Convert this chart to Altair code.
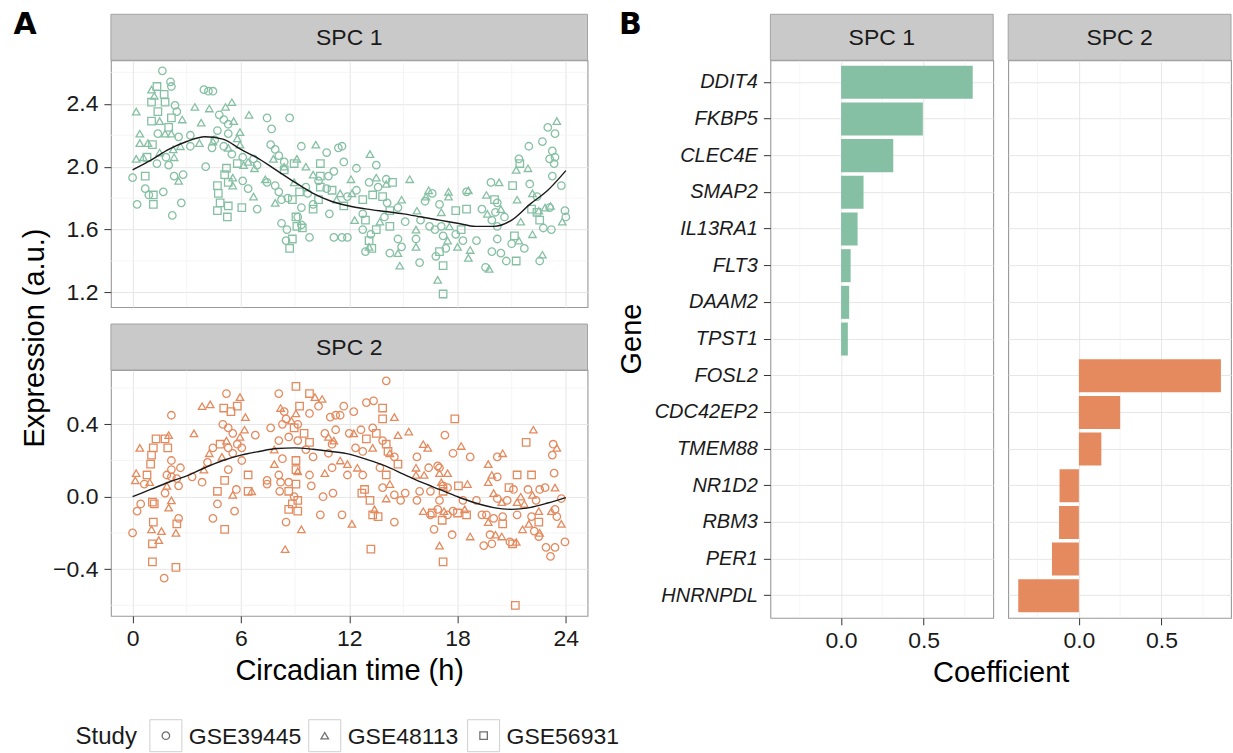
import altair as alt
import pandas as pd

# ---------------- data ----------------
studies = ["GSE39445", "GSE48113", "GSE56931"]

spc1_gse39445 = [
    (0, 1.93), (0.25, 1.76), (0.7, 1.86), (0.9, 1.82), (1.35, 2.02), (1.65, 2.61), (2.1, 2.54), (2.15, 2.51),
    (2.35, 2.39), (2.45, 2.35), (1.4, 2.21), (1.85, 2.06), (2.0, 2.01), (2.3, 1.94), (2.8, 1.95), (1.7, 1.84),
    (2.2, 1.69), (2.7, 1.77), (2.55, 2.19), (3.2, 2.20), (3.95, 2.49), (4.2, 2.48), (4.45, 2.48), (3.2, 2.13),
    (4.05, 2.0), (4.4, 2.12), (4.8, 2.33), (5.05, 2.30), (5.3, 2.27), (5.3, 2.21), (4.7, 2.23), (4.55, 2.17),
    (5.05, 2.13), (5.5, 2.08), (6.1, 2.06), (6.1, 1.91), (6.9, 1.73), (6.4, 1.86), (6.7, 2.05), (6.9, 2.01),
    (7.45, 2.31), (8.7, 2.31), (7.7, 2.24), (7.65, 2.14), (7.9, 2.11), (8.1, 2.07), (8.4, 2.03), (7.45, 1.90),
    (7.9, 1.88), (8.1, 1.84), (8.25, 1.79), (8.6, 1.80), (8.25, 1.64), (8.55, 1.60), (8.5, 1.53), (9.15, 1.68),
    (9.35, 1.63), (9.8, 1.55), (9.35, 2.13), (9.6, 1.87), (9.7, 1.83), (9.35, 1.74), (10.75, 2.09), (11.4, 2.12),
    (11.6, 2.13), (11.7, 2.03), (11.15, 1.97), (10.3, 1.91), (10.85, 1.94), (10.75, 1.86), (11.9, 1.81),
    (10.0, 1.76), (10.9, 1.70), (11.15, 1.55), (11.6, 1.55), (11.9, 1.55), (12.4, 1.99), (12.4, 1.85),
    (12.75, 1.70), (12.75, 1.60), (13.5, 2.01), (13.1, 1.90), (13.6, 1.87), (14.05, 1.92), (14.1, 1.77),
    (14.7, 1.74), (13.2, 1.57), (12.9, 1.46), (13.95, 1.68), (14.25, 1.45), (14.9, 1.49), (14.7, 1.54),
    (15.1, 1.65), (15.95, 1.66), (15.7, 1.54), (15.9, 1.39), (16.2, 1.78), (16.6, 1.83), (17.0, 1.76),
    (18.5, 1.84), (16.45, 1.62), (16.75, 1.60), (17.1, 1.62), (17.2, 1.56), (16.8, 1.43), (17.35, 1.48),
    (17.9, 1.57), (18.3, 1.53), (19.05, 1.53), (19.35, 1.73), (19.85, 1.90), (19.9, 1.66), (20.2, 1.77),
    (20.1, 1.71), (20.6, 1.68), (20.2, 1.62), (20.2, 1.54), (19.9, 1.46), (19.55, 1.36), (20.4, 1.45),
    (20.7, 1.40), (21.4, 2.05), (22.0, 1.89), (21.0, 1.51), (21.7, 1.48), (21.95, 2.13), (22.4, 1.81),
    (22.55, 1.40), (22.75, 1.61), (23.2, 1.60), (23.1, 1.74), (22.7, 2.16), (23.0, 2.25), (23.4, 2.21),
    (23.1, 2.05), (23.4, 2.06), (23.35, 2.02), (23.25, 2.10), (23.95, 1.72), (24.0, 1.68), (23.75, 1.88),
    (23.25, 1.94),
]
spc1_gse48113 = [
    (0.2, 2.35), (0.4, 2.21), (0.4, 2.15), (0.2, 2.05), (0.6, 2.06), (0.85, 2.15), (1.5, 2.09), (1.05, 2.49),
    (1.2, 2.45), (1.5, 2.29), (2.15, 2.21), (1.8, 2.21), (2.75, 2.30), (2.25, 2.11), (2.3, 2.06), (2.55, 1.91),
    (2.65, 2.13), (3.45, 2.38), (3.8, 2.28), (4.25, 2.37), (3.7, 2.15), (4.45, 2.16), (5.15, 2.38), (5.5, 2.41),
    (5.6, 2.29), (5.95, 2.22), (5.8, 2.18), (5.3, 2.12), (5.95, 2.14), (6.15, 2.01), (5.55, 1.93), (5.55, 1.88),
    (6.7, 1.81), (6.4, 2.03), (6.45, 2.33), (6.75, 1.99), (7.8, 2.05), (8.4, 2.0), (7.35, 1.92), (7.9, 1.77),
    (9.1, 2.05), (8.95, 1.90), (9.6, 2.0), (10.15, 2.14), (10.0, 1.95), (11.5, 1.83), (11.3, 1.79),
    (12.1, 1.92), (12.15, 1.83), (12.3, 1.66), (13.15, 2.08), (13.5, 1.93), (14.05, 1.89), (14.9, 1.79),
    (15.35, 1.92), (13.1, 1.49), (13.7, 1.65), (14.7, 1.45), (14.8, 1.37), (15.75, 1.72), (15.7, 1.60),
    (15.7, 1.49), (16.4, 1.85), (16.25, 1.81), (17.1, 1.71), (17.5, 1.84), (17.5, 1.81), (18.6, 1.85),
    (17.55, 1.62), (17.45, 1.53), (16.9, 1.28), (18.0, 1.49), (18.6, 1.42), (18.7, 1.47), (19.6, 1.82),
    (19.65, 1.70), (20.3, 1.90), (20.4, 1.73), (19.75, 1.35), (21.25, 1.98), (21.9, 1.99), (21.3, 1.79),
    (21.4, 1.53), (21.5, 1.65), (22.15, 1.83), (22.5, 1.72), (22.15, 1.57), (22.7, 1.44), (22.85, 1.74),
    (23.5, 2.29), (23.15, 1.75), (23.8, 1.65),
]
spc1_gse56931 = [
    (0.7, 1.94), (1.15, 1.82), (1.15, 1.76), (0.8, 2.06), (1.1, 2.14), (1.35, 2.51), (1.05, 2.41), (1.4, 2.35),
    (1.05, 2.29), (1.75, 2.46), (1.8, 2.41), (2.15, 2.31), (2.0, 2.25), (5.8, 2.02), (5.2, 1.99), (5.1, 1.95),
    (5.3, 1.90), (4.7, 1.88), (4.75, 1.83), (4.85, 1.77), (5.3, 1.75), (4.7, 1.72), (5.25, 1.68), (6.05, 1.74),
    (8.4, 1.98), (8.85, 1.79), (9.05, 1.68), (8.85, 1.54), (8.7, 1.48), (9.1, 1.62), (9.4, 1.61), (8.95, 2.02),
    (10.0, 1.73), (9.25, 1.84), (10.4, 2.02), (10.4, 1.94), (10.4, 1.87), (11.05, 1.85), (10.3, 1.79),
    (11.7, 1.75), (12.75, 1.79), (12.9, 1.66), (13.3, 1.82), (13.85, 1.81), (14.4, 1.90), (14.25, 1.72),
    (13.1, 1.53), (13.25, 1.48), (13.5, 1.60), (14.25, 1.62), (17.9, 1.72), (18.5, 1.73), (17.0, 1.46),
    (17.2, 1.37), (17.2, 1.19), (18.2, 1.60), (20.05, 1.79), (21.25, 1.40), (21.05, 1.88), (21.45, 2.02),
    (21.15, 1.56), (22.1, 1.73), (22.55, 1.66), (22.4, 1.71),
]

spc2_gse39445 = [
    (0, -0.20), (0.25, -0.08), (0.45, -0.04), (0.65, 0.07), (1.75, -0.45), (2.15, 0.45), (2.15, 0.20),
    (2.15, 0.15), (1.9, 0.12), (2.15, 0.11), (1.8, 0.02), (2.45, 0.10), (2.55, 0.06), (2.55, -0.12),
    (2.65, 0.16), (3.3, 0.11), (3.85, 0.08), (4.15, 0.19), (4.45, 0.27), (4.7, -0.04), (4.45, -0.12),
    (5.2, 0.57), (5.0, 0.40), (5.3, 0.38), (5.55, 0.35), (5.3, 0.27), (5.55, 0.24), (5.3, 0.15), (5.75, 0.04),
    (5.65, -0.08), (6.05, 0.27), (6.05, 0.20), (5.8, 0.29), (6.8, 0.34), (7.45, 0.09), (7.45, 0.07),
    (7.65, 0.38), (8.1, 0.57), (8.4, 0.47), (8.5, 0.43), (10.3, 0.50), (9.8, 0.46), (8.3, 0.40), (9.15, 0.40),
    (8.1, 0.31), (8.65, 0.33), (9.15, 0.31), (8.3, 0.21), (8.1, 0.12), (8.65, 0.08), (8.2, 0.08), (8.15, 0.03),
    (8.95, 0.0), (8.5, -0.14), (9.8, 0.12), (9.6, 0.26), (10.0, 0.22), (9.9, 0.06), (10.4, -0.10),
    (10.65, 0.35), (10.95, 0.44), (11.05, 0.29), (11.25, 0.37), (11.25, 0.45), (11.5, 0.45), (11.7, 0.50),
    (12.25, 0.47), (10.85, 0.24), (11.05, 0.16), (11.9, 0.12), (11.1, 0.02), (10.55, 0.0), (11.6, -0.10),
    (12.0, 0.35), (12.65, 0.37), (12.35, 0.27), (12.75, 0.25), (12.75, 0.12), (13.35, 0.53), (12.95, 0.52),
    (13.3, 0.38), (14.05, 0.64), (13.85, 0.31), (14.5, 0.22), (13.7, 0.16), (13.85, 0.05), (14.5, 0.01),
    (14.85, -0.02), (15.1, 0.02), (14.5, -0.14), (15.75, 0.22), (15.75, -0.02), (15.9, 0.03), (16.4, 0.16),
    (16.5, 0.03), (16.5, -0.10), (16.7, -0.18), (16.9, 0.17), (17.0, 0.16), (17.2, 0.06), (17.45, 0.05),
    (17.0, -0.02), (16.9, -0.07), (17.45, -0.10), (17.3, 0.34), (17.75, 0.24), (18.7, 0.22), (18.3, -0.02),
    (17.75, -0.08), (17.7, -0.21), (19.05, -0.02), (19.35, -0.10), (19.6, -0.10), (20.2, 0.11), (20.2, 0.22),
    (19.45, -0.27), (19.9, -0.26), (19.8, -0.21), (20.0, -0.12), (20.2, -0.01), (20.5, -0.11), (20.75, -0.02),
    (21.1, 0.04), (21.3, -0.10), (20.9, -0.25), (22.1, -0.11), (21.9, 0.04), (22.35, -0.02), (22.25, -0.19),
    (22.5, -0.22), (22.9, -0.28), (23.15, -0.33), (22.55, 0.04), (22.85, 0.05), (23.3, 0.29), (23.25, 0.23),
    (23.35, 0.13), (23.4, -0.07), (23.5, -0.11), (23.4, -0.28), (23.95, -0.25), (23.75, -0.01),
]
spc2_gse48113 = [
    (0.4, 0.27), (0.2, 0.13), (0.15, 0.09), (0.95, 0.08), (1.05, -0.18), (1.45, -0.24), (1.6, -0.19),
    (2.0, 0.34), (1.9, 0.06), (2.15, -0.02), (2.0, -0.06), (2.4, -0.20), (3.4, 0.35), (3.85, 0.50), (4.3, 0.51),
    (3.95, 0.15), (4.25, 0.24), (5.95, 0.55), (5.2, 0.31), (4.95, 0.22), (5.55, 0.01), (5.95, 0.33),
    (6.25, 0.44), (6.2, 0.37), (6.6, 0.03), (8.2, 0.49), (10.1, 0.55), (10.5, 0.54), (9.05, 0.46), (8.8, 0.42),
    (7.85, 0.26), (7.85, 0.18), (9.15, 0.14), (9.35, -0.18), (8.45, -0.29), (10.85, 0.33), (11.15, 0.31),
    (11.5, 0.20), (10.65, 0.13), (11.9, 0.18), (12.15, -0.15), (12.25, 0.35), (12.45, 0.16), (13.3, 0.27),
    (14.5, 0.44), (14.25, 0.24), (14.7, 0.34), (14.25, 0.07), (14.05, -0.01), (13.4, -0.07), (15.3, 0.36),
    (15.7, 0.16), (15.7, 0.12), (16.1, -0.08), (16.1, 0.29), (16.35, 0.27), (16.15, 0.12), (17.0, -0.27),
    (17.0, 0.13), (17.45, 0.13), (17.1, 0.08), (17.25, -0.08), (18.2, 0.28), (18.55, 0.07), (18.4, -0.07),
    (18.7, -0.22), (19.7, 0.08), (19.9, 0.12), (19.7, 0.18), (20.5, 0.24), (19.7, -0.14), (20.1, -0.21),
    (20.45, -0.22), (20.0, 0.02), (20.45, -0.03), (21.3, -0.03), (21.5, 0.0), (21.7, -0.04), (21.25, -0.25),
    (21.6, -0.18), (21.95, -0.15), (22.2, 0.37), (22.15, 0.01), (22.5, -0.08), (22.55, -0.20), (23.4, 0.05),
    (23.5, 0.27), (23.2, -0.08), (23.75, -0.15),
]
spc2_gse56931 = [
    (0.8, 0.12), (1.0, 0.18), (1.05, 0.23), (1.15, 0.27), (1.3, 0.32), (1.1, -0.03), (1.2, -0.04),
    (1.15, -0.14), (1.1, -0.26), (1.1, -0.36), (2.4, -0.39), (1.8, 0.32), (1.95, 0.27), (2.45, -0.15),
    (4.7, 0.03), (5.1, -0.18), (5.05, 0.49), (5.45, 0.47), (5.8, 0.50), (4.85, 0.29), (5.1, 0.09), (6.4, 0.03),
    (6.4, 0.12), (9.05, 0.61), (9.25, 0.50), (9.8, 0.57), (8.95, 0.38), (9.5, 0.35), (9.05, 0.20), (9.05, 0.15),
    (9.05, 0.07), (8.65, 0.03), (9.15, -0.02), (8.85, -0.04), (8.65, -0.07), (9.15, -0.08), (9.8, 0.30),
    (12.85, 0.04), (12.7, 0.02), (13.15, -0.02), (13.3, -0.10), (13.2, -0.29), (12.95, 0.32), (13.5, 0.35),
    (13.85, 0.49), (13.85, 0.43), (14.05, 0.29), (14.15, 0.25), (14.7, 0.18), (14.05, 0.12), (13.6, -0.11),
    (16.6, -0.09), (17.2, -0.36), (17.2, 0.03), (17.15, -0.13), (17.85, 0.43), (18.05, 0.06), (18.0, -0.09),
    (18.5, -0.10), (20.5, -0.15), (20.85, 0.05), (21.3, 0.12), (22.1, 0.12), (21.05, -0.26), (21.2, -0.60),
    (21.8, 0.30), (22.5, -0.14),
]

curve_hours = list(range(25))
spc1_curve = [1.98, 2.04, 2.11, 2.16, 2.19, 2.175, 2.11, 2.05, 1.975, 1.90, 1.83, 1.78, 1.75, 1.73, 1.715,
              1.70, 1.68, 1.66, 1.64, 1.62, 1.62, 1.66, 1.76, 1.85, 1.975]
spc2_curve = [0.0, 0.04, 0.08, 0.115, 0.16, 0.20, 0.23, 0.25, 0.266, 0.27, 0.262, 0.25, 0.235, 0.205, 0.17,
              0.125, 0.08, 0.04, 0.0, -0.035, -0.06, -0.07, -0.06, -0.035, -0.005]

genes = ["DDIT4", "FKBP5", "CLEC4E", "SMAP2", "IL13RA1", "FLT3", "DAAM2", "TPST1",
         "FOSL2", "CDC42EP2", "TMEM88", "NR1D2", "RBM3", "PER1", "HNRNPDL"]
spc1_genes = genes[:8]
spc1_coef = [0.797, 0.495, 0.316, 0.136, 0.10, 0.058, 0.049, 0.041]
spc2_genes = genes[8:]
spc2_coef = [0.86, 0.25, 0.136, -0.117, -0.12, -0.163, -0.367]

hour_major = [0, 6, 12, 18, 24]
hour_minor = [3, 9, 15, 21]
y1_major = [1.2, 1.6, 2.0, 2.4]
y1_minor = [1.4, 1.8, 2.2, 2.6]
y2_major = [-0.4, 0.0, 0.4]
y2_minor = [-0.6, -0.2, 0.2, 0.6]
coef_major = [0.0, 0.5]
coef_minor = [-0.25, 0.25, 0.75]

# ---------------- style ----------------
FONT = "Liberation Sans"
GREEN = "#86c0a4"
ORANGE = "#e48a5e"
GRID = "#e6e6e6"
MINOR = "#f1f1f1"
STRIP_FILL = "#c9c9c9"
STRIP_STROKE = "#a3a3a3"
TXT = "#1a1a1a"
STRIP_H = 46
W_A, H1, H2 = 477, 247, 246
W_B, H_B = 223, 558
TICK_FS, TITLE_FS = 23, 29
PT_SIZE = 56

shape_scale = alt.Scale(domain=studies, range=["circle", "triangle-up", "square"])
hour_scale = alt.Scale(domain=[-1.2, 25.2], nice=False, zero=False)


def points_df(lists):
    rows = []
    for study, pts in zip(studies, lists):
        for h, v in pts:
            rows.append({"hour": h, "value": v, "study": study})
    return pd.DataFrame(rows)


def strip_layers(label, width):
    d = pd.DataFrame({"label": [label]})
    rect = alt.Chart(d).mark_rect(fill=STRIP_FILL, stroke=STRIP_STROKE, strokeWidth=1).encode(
        x=alt.value(0), x2=alt.value(width), y=alt.value(-STRIP_H), y2=alt.value(0))
    txt = alt.Chart(d).mark_text(fontSize=TICK_FS, color=TXT, font=FONT).encode(
        x=alt.value(width / 2), y=alt.value(-STRIP_H / 2 + 1), text="label:N")
    return [rect, txt]


def free_text(t, x, y, size, angle=0, weight="normal", font=FONT):
    d = pd.DataFrame({"t": [t]})
    return alt.Chart(d).mark_text(fontSize=size, angle=angle, fontWeight=weight, color="#000", font=font,
                                  baseline="middle", align="center").encode(
        x=alt.value(x), y=alt.value(y), text="t:N")


def y_axis(values):
    return alt.Axis(values=values, format=".1f", title=None, labelFontSize=TICK_FS, tickSize=7,
                    labelPadding=6, domain=False, grid=True, gridColor=GRID, gridWidth=1)


def scatter_panel(lists, curve, color, ydom, ymaj, ymin, label, bottom):
    ys = alt.Scale(domain=ydom, nice=False, zero=False)
    yax = y_axis(ymaj)
    if bottom:
        xaxis = alt.Axis(values=hour_major, format="d", title="Circadian time (h)", labelFontSize=TICK_FS,
                         titleFontSize=TITLE_FS, titleFontWeight="normal", titleColor="#000", tickSize=7,
                         labelPadding=5, titlePadding=6, domain=False, grid=True, gridColor=GRID)
    else:
        xaxis = alt.Axis(values=hour_major, labels=False, ticks=False, domain=False, title=None,
                         grid=True, gridColor=GRID)
    vminor = alt.Chart(pd.DataFrame({"hour": hour_minor})).mark_rule(color=MINOR, strokeWidth=0.7).encode(
        x=alt.X("hour:Q", scale=hour_scale, axis=xaxis))
    hminor = alt.Chart(pd.DataFrame({"value": ymin})).mark_rule(color=MINOR, strokeWidth=0.7).encode(
        y=alt.Y("value:Q", scale=ys, axis=yax))
    pts = alt.Chart(points_df(lists)).mark_point(filled=False, size=PT_SIZE, strokeWidth=1.3, color=color,
                                                 opacity=1).encode(
        x=alt.X("hour:Q", scale=hour_scale, axis=xaxis),
        y=alt.Y("value:Q", scale=ys, axis=yax),
        shape=alt.Shape("study:N", scale=shape_scale, legend=None))
    line = alt.Chart(pd.DataFrame({"hour": curve_hours, "value": curve})).mark_line(
        color="#1a1a1a", strokeWidth=1.4, interpolate="monotone").encode(
        x=alt.X("hour:Q", scale=hour_scale, axis=xaxis),
        y=alt.Y("value:Q", scale=ys, axis=yax))
    return [vminor, hminor, pts, line] + strip_layers(label, W_A)


# ---------------- panel A ----------------
plot1 = alt.layer(
    *scatter_panel([spc1_gse39445, spc1_gse48113, spc1_gse56931], spc1_curve, GREEN,
                   [1.107, 2.677], y1_major, y1_minor, "SPC 1", False),
    free_text("A", -86, -35, 30, weight="bold", font="DejaVu Sans"),
    free_text("Expression (a.u.)", -76, 278, TITLE_FS, angle=270),
).properties(width=W_A, height=H1)

LEG_Y = 366
leg_df = pd.DataFrame({"study": studies})
leg_x = alt.X("study:N", scale=alt.Scale(type="point", domain=studies, range=[55, 373], padding=0), axis=None)
leg_box = alt.Chart(leg_df).mark_square(size=32 * 32, fill="white", stroke="#cfcfcf", strokeWidth=1,
                                        opacity=1).encode(x=leg_x, y=alt.value(LEG_Y))
leg_sym = alt.Chart(leg_df).mark_point(filled=False, size=PT_SIZE, strokeWidth=1.3, color="#333333").encode(
    x=leg_x, y=alt.value(LEG_Y), shape=alt.Shape("study:N", scale=shape_scale, legend=None))
leg_lab = alt.Chart(leg_df).mark_text(align="left", dx=23, fontSize=TICK_FS, color=TXT, font=FONT).encode(
    x=leg_x, y=alt.value(LEG_Y + 1), text="study:N")
leg_title = alt.Chart(pd.DataFrame({"t": ["Study"]})).mark_text(align="right", fontSize=24, color=TXT,
                                                                 font=FONT).encode(
    x=alt.value(26), y=alt.value(LEG_Y + 1), text="t:N")
legend = alt.layer(leg_box, leg_sym, leg_lab, leg_title)

plot2_main = alt.layer(
    *scatter_panel([spc2_gse39445, spc2_gse48113, spc2_gse56931], spc2_curve, ORANGE,
                   [-0.658, 0.70], y2_major, y2_minor, "SPC 2", True))
plot2 = alt.layer(plot2_main, legend).resolve_scale(x="independent").properties(width=W_A, height=H2)

panelA = alt.vconcat(plot1, plot2, spacing=63, bounds="flush")

# ---------------- panel B ----------------
coef_scale = alt.Scale(domain=[-0.428, 0.921], nice=False, zero=False)
gene_scale = alt.Scale(domain=genes, paddingInner=0.1, paddingOuter=0.15)
coef_axis = alt.Axis(values=coef_major, format=".1f", title=None, labelFontSize=TICK_FS, tickSize=7,
                     labelPadding=5, domain=False, grid=True, gridColor=GRID)


def bar_panel(gs, cs, color, label, first):
    if first:
        yaxis = alt.Axis(title=None, labelFontStyle="italic", labelFontSize=20, tickSize=7, labelPadding=6,
                         domain=False, grid=True, gridColor=GRID, bandPosition=0.5)
    else:
        yaxis = alt.Axis(title=None, labels=False, ticks=False, domain=False, grid=True, gridColor=GRID,
                         bandPosition=0.5)
    vminor = alt.Chart(pd.DataFrame({"coef": coef_minor})).mark_rule(color=MINOR, strokeWidth=0.7).encode(
        x=alt.X("coef:Q", scale=coef_scale, axis=coef_axis))
    bars = alt.Chart(pd.DataFrame({"gene": gs, "coef": cs})).mark_bar(color=color, opacity=1).encode(
        x=alt.X("coef:Q", scale=coef_scale, axis=coef_axis),
        x2=alt.X2Datum(0),
        y=alt.Y("gene:N", scale=gene_scale, sort=genes, axis=yaxis))
    layers = [vminor, bars] + strip_layers(label, W_B)
    if first:
        layers += [free_text("B", -140, -35, 30, weight="bold", font="DejaVu Sans"),
                   free_text("Gene", -138, 279, TITLE_FS, angle=270),
                   free_text("Coefficient", W_B + 8, 613, TITLE_FS)]
    return alt.layer(*layers).properties(width=W_B, height=H_B)


bar1 = bar_panel(spc1_genes, spc1_coef, GREEN, "SPC 1", True)
bar2 = bar_panel(spc2_genes, spc2_coef, ORANGE, "SPC 2", False)
panelB = alt.hconcat(bar1, bar2, spacing=15, bounds="flush")

# nested groups count as zero width in a flush layout, so the gap spans panel A's plot width
chart = alt.hconcat(panelA, panelB, spacing=W_A + 183, bounds="flush").properties(
    padding={"left": 12, "top": 9, "right": 0, "bottom": 0}
).configure(font=FONT).configure_view(stroke="#999999", strokeWidth=1.1).configure_axis(
    labelColor=TXT, tickColor="#333333", tickWidth=1, labelFont=FONT, titleFont=FONT)

chart.save("out.html", embed_options={"renderer": "svg", "actions": False})
